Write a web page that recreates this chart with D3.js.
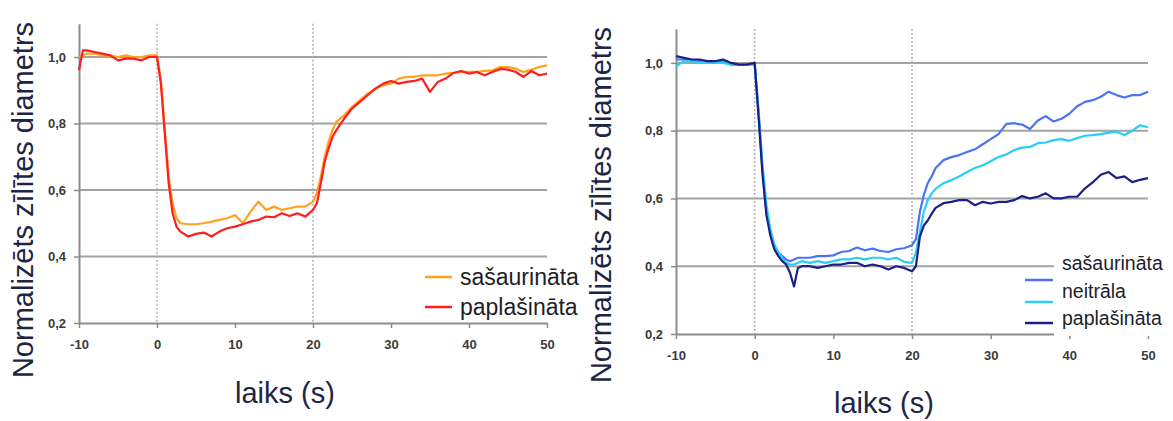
<!DOCTYPE html>
<html><head><meta charset="utf-8">
<script src="https://cdn.jsdelivr.net/npm/d3@7"></script>
<style>
html,body{margin:0;padding:0;background:#fff;}
svg{display:block;}
</style></head>
<body>
<svg id="chart" width="1173" height="421"></svg>
<script>
// ---------- DATA ----------
const xTicks = [-10, 0, 10, 20, 30, 40, 50];
const yTicks = [0.2, 0.4, 0.6, 0.8, 1.0];
const markerTimes = [0, 20];
const yTitle = "Normalizēts zīlītes diametrs";
const xTitle = "laiks (s)";

const timesLeft = [-10,-9.5,-9,-8,-7,-6,-5,-4,-3,-2,-1,0,0.5,1,1.5,2,2.5,3,4,5,6,7,8,9,10,11,12,13,14,15,16,17,18,19,20,20.5,21,21.5,22,22.5,23,24,25,26,27,28,29,30,31,32,33,34,35,36,37,38,39,40,41,42,43,44,45,46,47,48,49,50];
const leftNarrow = [1.0,1.005,1.01,1.01,1.005,1.005,1.0,1.005,1.0,1.0,1.005,1.005,0.93,0.78,0.64,0.56,0.515,0.5,0.497,0.497,0.5,0.505,0.51,0.515,0.525,0.5,0.535,0.565,0.54,0.55,0.54,0.545,0.55,0.55,0.565,0.59,0.64,0.7,0.745,0.78,0.805,0.825,0.85,0.87,0.89,0.905,0.915,0.92,0.935,0.94,0.94,0.945,0.945,0.945,0.95,0.952,0.955,0.955,0.955,0.958,0.96,0.97,0.97,0.965,0.955,0.962,0.97,0.975];
const leftWide   = [0.96,1.02,1.02,1.015,1.01,1.005,0.99,0.995,0.995,0.99,1.0,1.0,0.92,0.77,0.62,0.53,0.49,0.475,0.46,0.468,0.472,0.46,0.475,0.485,0.49,0.497,0.505,0.51,0.52,0.518,0.53,0.522,0.53,0.52,0.54,0.56,0.62,0.685,0.725,0.76,0.78,0.815,0.845,0.865,0.885,0.905,0.92,0.928,0.92,0.925,0.928,0.935,0.895,0.925,0.935,0.952,0.958,0.95,0.955,0.945,0.955,0.964,0.962,0.955,0.94,0.958,0.945,0.95];

const timesRight = [-10,-9,-8,-7,-6,-5,-4,-3,-2,-1,0,0.5,1,1.5,2,2.5,3,3.5,4,4.5,5,5.5,6,7,8,9,10,11,12,13,14,15,16,17,18,19,20,20.5,21,21.5,22,22.5,23,24,25,26,27,28,29,30,31,32,33,34,35,36,37,38,39,40,41,42,43,44,45,46,47,48,49,50];
const rightNarrow  = [1.01,1.01,1.005,1.005,1.005,1.0,1.005,0.995,0.995,0.995,1.0,0.85,0.68,0.56,0.5,0.46,0.44,0.43,0.42,0.415,0.42,0.425,0.425,0.425,0.43,0.43,0.432,0.442,0.445,0.455,0.447,0.452,0.445,0.442,0.45,0.453,0.462,0.48,0.56,0.61,0.645,0.665,0.69,0.713,0.722,0.728,0.737,0.745,0.76,0.775,0.79,0.82,0.822,0.818,0.805,0.83,0.843,0.827,0.835,0.85,0.872,0.885,0.89,0.9,0.915,0.905,0.898,0.905,0.905,0.915];
const rightNeutral = [0.99,1.005,1.005,1.0,1.005,1.0,1.0,0.995,0.995,0.995,0.995,0.86,0.7,0.58,0.51,0.465,0.44,0.425,0.41,0.405,0.405,0.41,0.415,0.41,0.415,0.41,0.415,0.42,0.42,0.425,0.42,0.425,0.425,0.42,0.425,0.413,0.41,0.44,0.5,0.56,0.595,0.615,0.628,0.645,0.654,0.665,0.678,0.69,0.698,0.71,0.722,0.73,0.743,0.75,0.752,0.763,0.765,0.772,0.775,0.77,0.778,0.785,0.787,0.79,0.794,0.797,0.787,0.8,0.816,0.81];
const rightWide    = [1.02,1.015,1.01,1.01,1.005,1.005,1.01,1.0,0.995,0.995,1.0,0.84,0.67,0.55,0.49,0.45,0.43,0.415,0.405,0.38,0.34,0.395,0.4,0.4,0.395,0.4,0.405,0.405,0.41,0.41,0.4,0.405,0.4,0.39,0.4,0.395,0.385,0.4,0.487,0.52,0.535,0.555,0.572,0.586,0.59,0.595,0.595,0.58,0.59,0.585,0.59,0.59,0.595,0.607,0.6,0.605,0.615,0.6,0.6,0.605,0.605,0.63,0.648,0.67,0.678,0.66,0.665,0.648,0.655,0.66];

const leftLegend = ["sašaurināta", "paplašināta"];
const rightLegend = ["sašaurināta", "neitrāla", "paplašināta"];

// ---------- DRAW ----------
const svg = d3.select("#chart");
const fmtY = d => d.toFixed(1).replace(".", ",");
const fmtX = d => String(d);
const FONT = "'Liberation Sans', Arial, sans-serif";

function panel(cfg) {
  const x = d3.scaleLinear().domain([-10, 50]).range([cfg.x0, cfg.x1]);
  const y = d3.scaleLinear().domain([0.2, 1.1]).range([cfg.y0, cfg.y1]);
  const g = svg.append("g");

  // gridlines
  g.selectAll(".grid").data(yTicks.filter(v => v > 0.2)).join("line")
    .attr("x1", cfg.x0).attr("x2", cfg.x1)
    .attr("y1", d => y(d)).attr("y2", d => y(d))
    .attr("stroke", "#a3a3a3").attr("stroke-width", 2);

  // dotted markers
  g.selectAll(".mark").data(markerTimes).join("line")
    .attr("x1", d => x(d)).attr("x2", d => x(d))
    .attr("y1", y(1.1)).attr("y2", y(0.2))
    .attr("stroke", "#b0b0b0").attr("stroke-width", 1.5)
    .attr("stroke-dasharray", "2,2");

  // x axis
  const xa = g.append("g").attr("transform", `translate(0,${cfg.y0})`)
    .call(d3.axisBottom(x).tickValues(xTicks).tickSize(5).tickSizeOuter(0).tickPadding(12).tickFormat(fmtX));
  xa.select(".domain").attr("stroke", "#8c8c8c").attr("stroke-width", 2);
  xa.selectAll(".tick line").attr("stroke", "#8c8c8c").attr("stroke-width", 1.5);
  xa.selectAll(".tick text").attr("font-family", FONT).attr("font-size", 13)
    .attr("font-weight", "bold").attr("fill", "#3a3a3a");

  // y axis
  const ya = g.append("g").attr("transform", `translate(${cfg.x0},0)`)
    .call(d3.axisLeft(y).tickValues(yTicks).tickSize(5).tickSizeOuter(0).tickPadding(8).tickFormat(fmtY));
  ya.select(".domain").attr("stroke", "#8c8c8c").attr("stroke-width", 2);
  ya.selectAll(".tick line").attr("stroke", "#8c8c8c").attr("stroke-width", 1.5);
  ya.selectAll(".tick text").attr("font-family", FONT).attr("font-size", 13)
    .attr("font-weight", "bold").attr("fill", "#3a3a3a");

  // series
  const line = d3.line().x(d => x(d[0])).y(d => y(d[1])).curve(d3.curveLinear);
  cfg.series.forEach(s => {
    g.append("path").datum(cfg.times.map((t, i) => [t, s.values[i]]))
      .attr("d", line).attr("fill", "none").attr("stroke", s.color)
      .attr("stroke-width", 2.2).attr("stroke-linejoin", "round");
  });

  // legend background (if any)
  if (cfg.legendBox) {
    const b = cfg.legendBox;
    g.append("rect").attr("x", b[0]).attr("y", b[1]).attr("width", b[2]).attr("height", b[3]).attr("fill", "#fff");
  }
  cfg.legend.forEach((L) => {
    if (L.swatchY != null) {
      g.append("line").attr("x1", cfg.legX0).attr("x2", cfg.legX1)
        .attr("y1", L.swatchY).attr("y2", L.swatchY)
        .attr("stroke", L.color).attr("stroke-width", 2.5);
    }
    g.append("text").attr("x", cfg.legTextX).attr("y", L.textY)
      .attr("font-family", FONT).attr("font-size", cfg.legFont).attr("fill", "#1e1e2a")
      .text(L.label);
  });

  // titles
  g.append("text").attr("transform", `translate(${cfg.ytX},${cfg.ytY}) rotate(-90)`)
    .attr("text-anchor", "middle").attr("font-family", FONT).attr("font-size", cfg.titleFont)
    .attr("fill", "#1d2545").text(yTitle);
  g.append("text").attr("x", cfg.xtX).attr("y", cfg.xtY)
    .attr("text-anchor", "middle").attr("font-family", FONT).attr("font-size", cfg.titleFont)
    .attr("fill", "#1d2545").text(xTitle);
}

panel({
  x0: 79, x1: 547, y0: 323, y1: 23.75,
  times: timesLeft,
  series: [
    {values: leftNarrow, color: "#ffa31f"},
    {values: leftWide, color: "#ff1e1e"}
  ],
  legend: [
    {label: leftLegend[0], color: "#ffa31f", swatchY: 277, textY: 285},
    {label: leftLegend[1], color: "#ff1e1e", swatchY: 307, textY: 315}
  ],
  legX0: 425, legX1: 452, legTextX: 460, legFont: 23,
  ytX: 33, ytY: 200, xtX: 285, xtY: 403, titleFont: 29
});

panel({
  x0: 676, x1: 1148, y0: 334, y1: 29,
  times: timesRight,
  series: [
    {values: rightNarrow, color: "#4a74f2"},
    {values: rightNeutral, color: "#27cff5"},
    {values: rightWide, color: "#1c1f85"}
  ],
  legendBox: [1054, 248, 119, 88],
  legend: [
    {label: rightLegend[0], color: null, swatchY: null, textY: 270},
    {label: rightLegend[1], color: "#4a74f2", swatchY: 280, textY: 298},
    {label: rightLegend[2], color: "#1c1f85", swatchY: 323, textY: 325}
  ],
  legX0: 1025, legX1: 1053, legTextX: 1062, legFont: 19.5,
  ytX: 611, ytY: 205, xtX: 884, xtY: 413, titleFont: 29
});
// cyan swatch (legend offset as in reference)
svg.append("line").attr("x1", 1025).attr("x2", 1053).attr("y1", 302).attr("y2", 302)
  .attr("stroke", "#27cff5").attr("stroke-width", 2.5);
</script>
</body></html>
